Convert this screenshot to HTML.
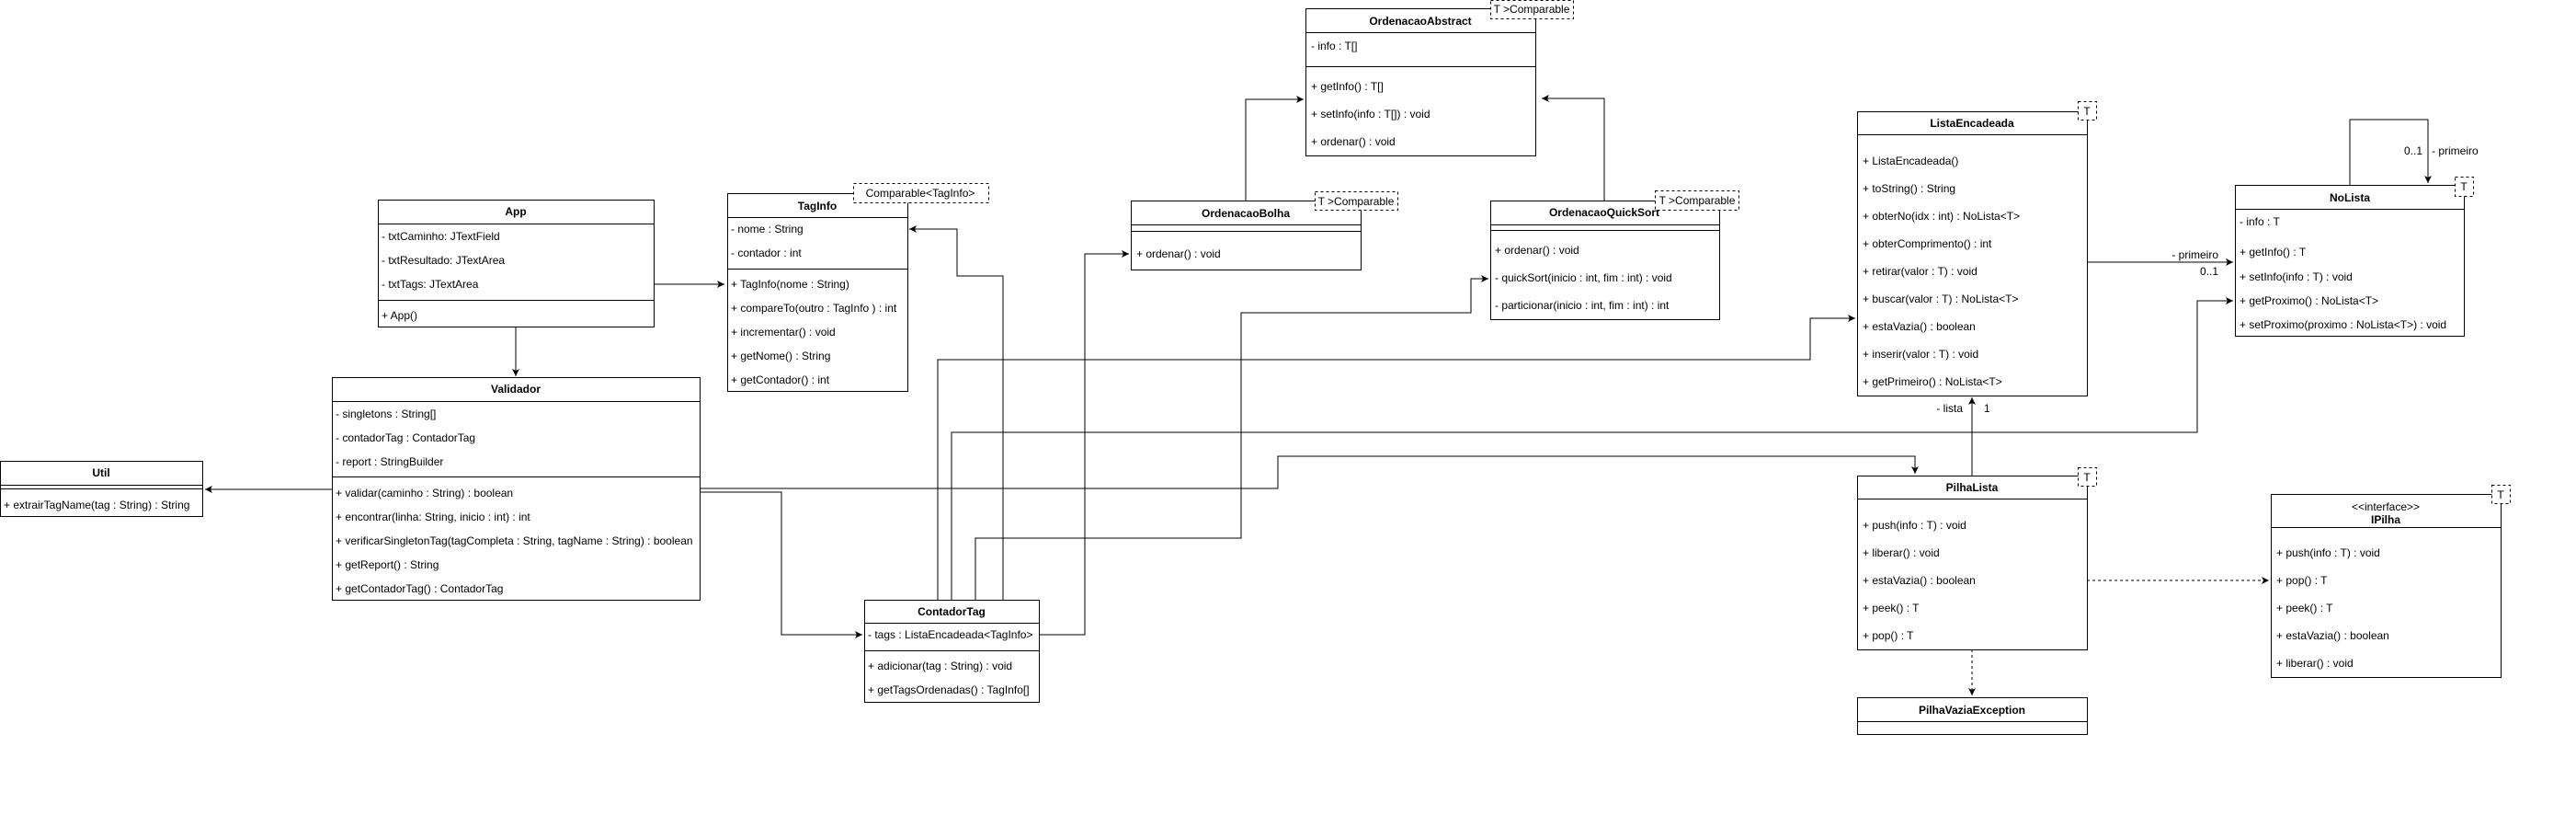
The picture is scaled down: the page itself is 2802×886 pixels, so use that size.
<!DOCTYPE html>
<html><head><meta charset="utf-8"><style>
html,body{margin:0;padding:0;background:#fff}
svg{display:block}
text{font-family:"Liberation Sans",Arial,sans-serif;font-size:12px;fill:#000}
.b{font-weight:bold}
.r{fill:#fff;stroke:#000;stroke-width:1}
.l{stroke:#000;stroke-width:1;fill:none}
.d{stroke:#000;stroke-width:1;fill:none;stroke-dasharray:3,3}
.t{fill:#fff;stroke:#000;stroke-dasharray:3,3}
</style></head><body>
<svg width="2802" height="886" viewBox="0 0 2802 886" xmlns="http://www.w3.org/2000/svg">
<defs><marker id="a" markerWidth="10" markerHeight="10" refX="8" refY="4" orient="auto" markerUnits="userSpaceOnUse"><path d="M0,0 L8,4 L0,8 L2,4 z" fill="#000"/></marker></defs>

<!-- connectors -->
<polyline class="l" points="711,309 788,309" marker-end="url(#a)"/>
<polyline class="l" points="561,355 561,409" marker-end="url(#a)"/>
<polyline class="l" points="361,532 223,532" marker-end="url(#a)"/>
<polyline class="l" points="761,535 850,535 850,690 938,690" marker-end="url(#a)"/>
<polyline class="l" points="761,531 1390,531 1390,496 2083,496 2083,515" marker-end="url(#a)"/>
<polyline class="l" points="1091,652 1091,300 1041,300 1041,249 989,249" marker-end="url(#a)"/>
<polyline class="l" points="1130,690 1180,690 1180,276 1228,276" marker-end="url(#a)"/>
<polyline class="l" points="1061,652 1061,585 1350,585 1350,340 1600,340 1600,303 1619,303" marker-end="url(#a)"/>
<polyline class="l" points="1020,652 1020,391 1969,391 1969,346 2018,346" marker-end="url(#a)"/>
<polyline class="l" points="1035,652 1035,470 2390,470 2390,327 2429,327" marker-end="url(#a)"/>
<polyline class="l" points="1355,218 1355,108 1418,108" marker-end="url(#a)"/>
<polyline class="l" points="1745,218 1745,107 1677,107" marker-end="url(#a)"/>
<polyline class="l" points="2270,285 2429,285" marker-end="url(#a)"/>
<polyline class="l" points="2556,201 2556,130 2641,130 2641,199" marker-end="url(#a)"/>
<polyline class="l" points="2145,517 2145,432" marker-end="url(#a)"/>
<polyline class="d" points="2270,631 2468,631" marker-end="url(#a)"/>
<polyline class="d" points="2145,706 2145,756" marker-end="url(#a)"/>

<text x="2413" y="281" text-anchor="end">- primeiro</text>
<text x="2413" y="299" text-anchor="end">0..1</text>
<text x="2635" y="168" text-anchor="end">0..1</text>
<text x="2645" y="168">- primeiro</text>
<text x="2135" y="448" text-anchor="end">- lista</text>
<text x="2158" y="448">1</text>

<!-- Util -->
<rect class="r" x="0.5" y="501.5" width="220" height="60"/>
<line class="l" x1="0" y1="527.5" x2="220" y2="527.5"/><line class="l" x1="0" y1="531.5" x2="220" y2="531.5"/>
<text class="b" x="110" y="518" text-anchor="middle">Util</text>
<text x="4" y="553">+ extrairTagName(tag : String) : String</text>

<!-- App -->
<rect class="r" x="411.5" y="217.5" width="300" height="138"/>
<line class="l" x1="411" y1="243.5" x2="711" y2="243.5"/><line class="l" x1="411" y1="326.5" x2="711" y2="326.5"/>
<text class="b" x="561" y="234" text-anchor="middle">App</text>
<text x="415" y="261">- txtCaminho: JTextField</text>
<text x="415" y="287">- txtResultado: JTextArea</text>
<text x="415" y="313">- txtTags: JTextArea</text>
<text x="415" y="347">+ App()</text>

<!-- Validador -->
<rect class="r" x="361.5" y="410.5" width="400" height="242"/>
<line class="l" x1="361" y1="436.5" x2="761" y2="436.5"/><line class="l" x1="361" y1="518.5" x2="761" y2="518.5"/>
<text class="b" x="561" y="427" text-anchor="middle">Validador</text>
<text x="365" y="454">- singletons : String[]</text>
<text x="365" y="480">- contadorTag : ContadorTag</text>
<text x="365" y="506">- report : StringBuilder</text>
<text x="365" y="540">+ validar(caminho : String) : boolean</text>
<text x="365" y="566">+ encontrar(linha: String, inicio : int) : int</text>
<text x="365" y="592">+ verificarSingletonTag(tagCompleta : String, tagName : String) : boolean</text>
<text x="365" y="618">+ getReport() : String</text>
<text x="365" y="644">+ getContadorTag() : ContadorTag</text>

<!-- TagInfo -->
<rect class="r" x="791.5" y="210.5" width="196" height="215"/>
<line class="l" x1="791" y1="236.5" x2="987" y2="236.5"/><line class="l" x1="791" y1="292.5" x2="987" y2="292.5"/>
<rect class="t" x="928.5" y="199.5" width="147" height="21"/>
<text x="1001" y="214" text-anchor="middle">Comparable&lt;TagInfo&gt;</text>
<text class="b" x="889" y="228" text-anchor="middle">TagInfo</text>
<text x="795" y="253">- nome : String</text>
<text x="795" y="279">- contador : int</text>
<text x="795" y="313">+ TagInfo(nome : String)</text>
<text x="795" y="339">+ compareTo(outro : TagInfo ) : int</text>
<text x="795" y="365">+ incrementar() : void</text>
<text x="795" y="391">+ getNome() : String</text>
<text x="795" y="417">+ getContador() : int</text>

<!-- ContadorTag -->
<rect class="r" x="940.5" y="652.5" width="190" height="111"/>
<line class="l" x1="940" y1="677.5" x2="1130" y2="677.5"/><line class="l" x1="940" y1="707.5" x2="1130" y2="707.5"/>
<text class="b" x="1035" y="669" text-anchor="middle">ContadorTag</text>
<text x="944" y="694">- tags : ListaEncadeada&lt;TagInfo&gt;</text>
<text x="944" y="728">+ adicionar(tag : String) : void</text>
<text x="944" y="754">+ getTagsOrdenadas() : TagInfo[]</text>

<!-- OrdenacaoBolha -->
<rect class="r" x="1230.5" y="218.5" width="250" height="75"/>
<line class="l" x1="1230" y1="244.5" x2="1480" y2="244.5"/><line class="l" x1="1230" y1="251.5" x2="1480" y2="251.5"/>
<rect class="t" x="1430.5" y="208.5" width="90" height="20"/>
<text x="1475" y="223" text-anchor="middle">T &gt;Comparable</text>
<text class="b" x="1355" y="236" text-anchor="middle">OrdenacaoBolha</text>
<text x="1236" y="280">+ ordenar() : void</text>

<!-- OrdenacaoAbstract -->
<rect class="r" x="1420.5" y="9.5" width="250" height="160"/>
<line class="l" x1="1420" y1="35.5" x2="1670" y2="35.5"/><line class="l" x1="1420" y1="72.5" x2="1670" y2="72.5"/>
<rect class="t" x="1621.5" y="0.5" width="90" height="20"/>
<text x="1666" y="14" text-anchor="middle">T &gt;Comparable</text>
<text class="b" x="1545" y="27" text-anchor="middle">OrdenacaoAbstract</text>
<text x="1426" y="54">- info : T[]</text>
<text x="1426" y="98">+ getInfo() : T[]</text>
<text x="1426" y="128">+ setInfo(info : T[]) : void</text>
<text x="1426" y="158">+ ordenar() : void</text>

<!-- OrdenacaoQuickSort -->
<rect class="r" x="1621.5" y="218.5" width="249" height="129"/>
<line class="l" x1="1621" y1="244.5" x2="1870" y2="244.5"/><line class="l" x1="1621" y1="250.5" x2="1870" y2="250.5"/>
<text class="b" x="1745" y="235" text-anchor="middle">OrdenacaoQuickSort</text>
<rect class="t" x="1800.5" y="207.5" width="91" height="21"/>
<text x="1846" y="222" text-anchor="middle">T &gt;Comparable</text>
<text x="1626" y="276">+ ordenar() : void</text>
<text x="1626" y="306">- quickSort(inicio : int, fim : int) : void</text>
<text x="1626" y="336">- particionar(inicio : int, fim : int) : int</text>

<!-- ListaEncadeada -->
<rect class="r" x="2020.5" y="121.5" width="250" height="309"/>
<line class="l" x1="2020" y1="146.5" x2="2270" y2="146.5"/>
<rect class="t" x="2260.5" y="110.5" width="20" height="20"/>
<text x="2270" y="125" text-anchor="middle">T</text>
<text class="b" x="2145" y="138" text-anchor="middle">ListaEncadeada</text>
<text x="2026" y="179">+ ListaEncadeada()</text>
<text x="2026" y="209">+ toString() : String</text>
<text x="2026" y="239">+ obterNo(idx : int) : NoLista&lt;T&gt;</text>
<text x="2026" y="269">+ obterComprimento() : int</text>
<text x="2026" y="299">+ retirar(valor : T) : void</text>
<text x="2026" y="329">+ buscar(valor : T) : NoLista&lt;T&gt;</text>
<text x="2026" y="359">+ estaVazia() : boolean</text>
<text x="2026" y="389">+ inserir(valor : T) : void</text>
<text x="2026" y="419">+ getPrimeiro() : NoLista&lt;T&gt;</text>

<!-- NoLista -->
<rect class="r" x="2431.5" y="201.5" width="249" height="164"/>
<line class="l" x1="2431" y1="227.5" x2="2680" y2="227.5"/>
<rect class="t" x="2670.5" y="192.5" width="20" height="21"/>
<text x="2680" y="207" text-anchor="middle">T</text>
<text class="b" x="2556" y="219" text-anchor="middle">NoLista</text>
<text x="2436" y="245">- info : T</text>
<text x="2436" y="278">+ getInfo() : T</text>
<text x="2436" y="305">+ setInfo(info : T) : void</text>
<text x="2436" y="331">+ getProximo() : NoLista&lt;T&gt;</text>
<text x="2436" y="357">+ setProximo(proximo : NoLista&lt;T&gt;) : void</text>

<!-- PilhaLista -->
<rect class="r" x="2020.5" y="517.5" width="250" height="189"/>
<line class="l" x1="2020" y1="542.5" x2="2270" y2="542.5"/>
<rect class="t" x="2260.5" y="508.5" width="20" height="20"/>
<text x="2270" y="523" text-anchor="middle">T</text>
<text class="b" x="2145" y="534" text-anchor="middle">PilhaLista</text>
<text x="2026" y="575">+ push(info : T) : void</text>
<text x="2026" y="605">+ liberar() : void</text>
<text x="2026" y="635">+ estaVazia() : boolean</text>
<text x="2026" y="665">+ peek() : T</text>
<text x="2026" y="695">+ pop() : T</text>

<!-- PilhaVaziaException -->
<rect class="r" x="2020.5" y="758.5" width="250" height="40"/>
<line class="l" x1="2020" y1="784.5" x2="2270" y2="784.5"/>
<text class="b" x="2145" y="776" text-anchor="middle">PilhaVaziaException</text>

<!-- IPilha -->
<rect class="r" x="2470.5" y="537.5" width="250" height="199"/>
<line class="l" x1="2470" y1="573.5" x2="2720" y2="573.5"/>
<rect class="t" x="2710.5" y="527.5" width="20" height="20"/>
<text x="2720" y="542" text-anchor="middle">T</text>
<text x="2595" y="555" text-anchor="middle">&lt;&lt;interface&gt;&gt;</text>
<text class="b" x="2595" y="569" text-anchor="middle">IPilha</text>
<text x="2476" y="605">+ push(info : T) : void</text>
<text x="2476" y="635">+ pop() : T</text>
<text x="2476" y="665">+ peek() : T</text>
<text x="2476" y="695">+ estaVazia() : boolean</text>
<text x="2476" y="725">+ liberar() : void</text>
</svg>
</body></html>
